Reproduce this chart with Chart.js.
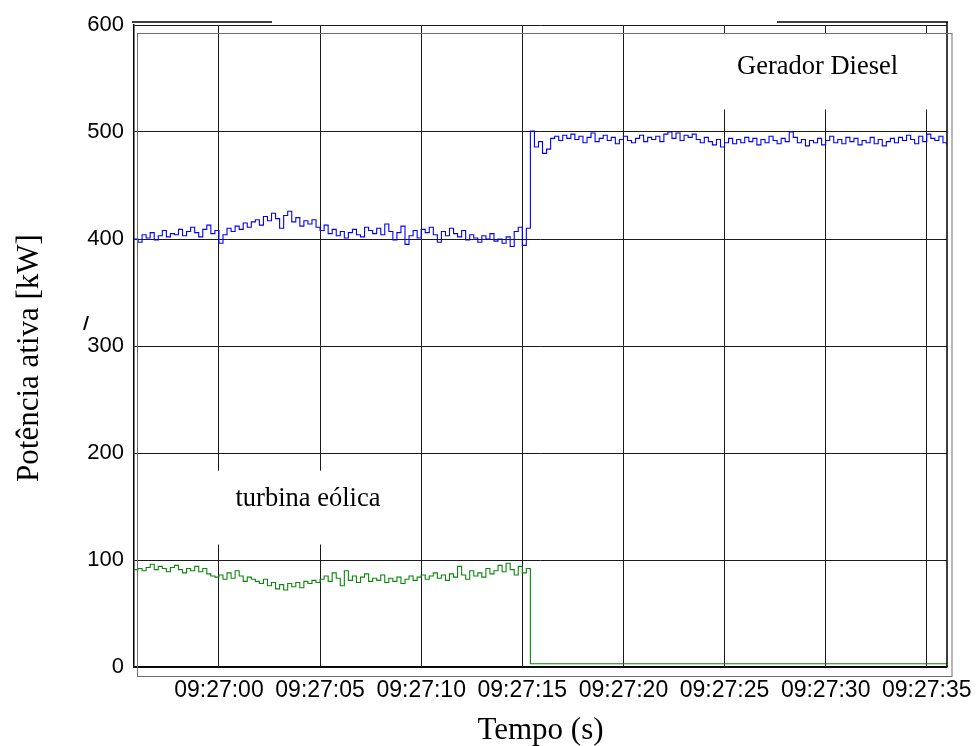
<!DOCTYPE html>
<html>
<head>
<meta charset="utf-8">
<script src="https://cdn.jsdelivr.net/npm/chart.js@4.4.1/dist/chart.umd.min.js"></script>
<style>
  html, body { margin: 0; padding: 0; background: #ffffff; }
  #wrap { width: 978px; height: 746px; }
</style>
</head>
<body>
<div id="wrap"><canvas id="c" width="978" height="746"></canvas></div>
<script>
// ---------------- DATA ----------------
// time in seconds relative to 09:27:00, sampled every 0.2 s starting at -4.2 s
const sampleStart = -4.2;
const sampleStep = 0.2;
const xMin = -4.2;
const xMax = 36.0;
const xTickValues = [0, 5, 10, 15, 20, 25, 30, 35];
const xTickPrefix = "09:27:";
const yTickValues = [0, 100, 200, 300, 400, 500, 600];

// Gerador Diesel active power [kW]
const dieselValues = [
  400, 397, 404, 401, 406, 399, 403, 408, 402, 405,
  404, 409, 403, 407, 411, 406, 402, 409, 413, 405,
  408, 396, 404, 410, 407, 412, 409, 415, 411, 416,
  418, 413, 421, 417, 424, 419, 410, 422, 426, 416,
  420, 412, 417, 414, 418, 411, 408, 413, 405, 409,
  403, 407, 401, 406, 409, 404, 402, 411, 408, 405,
  410, 404, 414, 407, 399, 406, 412, 395, 403, 408,
  401, 409, 406, 411, 404, 397, 407, 403, 410, 405,
  402, 408, 399, 404, 401, 397, 403, 400, 405, 398,
  400, 396, 402, 393, 407, 411, 394, 410,
  501, 486, 491, 480, 484, 494, 496, 492, 497, 494,
  498, 493, 496, 490, 495, 499, 491, 494, 497, 492,
  495, 489, 493, 496, 492, 490, 494, 497, 491, 495,
  493, 496, 491, 498, 500, 494, 499, 492, 497, 495,
  498, 493, 490, 495, 491, 488, 493, 486, 490, 494,
  489, 493, 490, 495, 491, 494, 488, 493, 490, 496,
  492, 489, 494, 491, 500, 495, 490, 493, 487, 492,
  490, 494, 488, 492, 496, 490, 493, 489, 495, 491,
  494, 488, 492, 490, 495, 489, 493, 487, 491, 494,
  490, 495, 492, 497, 493, 489, 496, 491, 498, 494,
  492, 496, 490, 488
];

// Turbina eólica active power [kW] before the trip (same sampling)
const windValuesBeforeTrip = [
  91, 92, 90, 93, 96, 91, 94, 92, 89, 93,
  95, 91, 88, 92, 90, 94, 89, 92, 87, 85,
  84, 86, 82, 88, 83, 90, 85, 80, 84, 82,
  80, 78, 82, 76, 79, 73, 77, 72, 78, 75,
  79, 74, 80, 78, 81, 79, 82, 85, 80, 88,
  83, 76, 90, 81, 85, 79, 84, 87, 80, 83,
  81, 86, 79, 83, 80, 84, 78, 82, 85, 81,
  84, 86, 82, 85, 88, 83, 86, 81, 87, 84,
  94, 86, 82, 90, 85, 88, 84, 92, 87, 90,
  95, 89, 97, 91, 86, 94, 88, 92
];
const windTripTime = 15.4;
const windValueAfterTrip = 3;

const labelDiesel = "Gerador Diesel";
const labelWind = "turbina eólica";
const xTitle = "Tempo (s)";
const yTitle = "Potência ativa [kW]";

// ---------------- BUILD ----------------
const dieselData = dieselValues.map((v, i) => ({ x: +(sampleStart + i * sampleStep).toFixed(2), y: v }));
const windData = windValuesBeforeTrip.map((v, i) => ({ x: +(sampleStart + i * sampleStep).toFixed(2), y: v }));
windData.push({ x: windTripTime, y: windValueAfterTrip });
windData.push({ x: xMax, y: windValueAfterTrip });

const pad2 = n => String(Math.round(n)).padStart(2, "0");

const annotations = {
  id: "annotations",
  beforeDatasetsDraw(chart) {
    const { ctx, scales: { x, y } } = chart;
    ctx.save();
    // white label boxes (hide the grid behind the labels)
    ctx.fillStyle = "#ffffff";
    const b1 = [x.getPixelForValue(20.8), y.getPixelForValue(591.5), x.getPixelForValue(35.7), y.getPixelForValue(521)];
    ctx.fillRect(b1[0], b1[1], b1[2] - b1[0], b1[3] - b1[1]);
    const b2 = [x.getPixelForValue(-3.4), y.getPixelForValue(183.5), x.getPixelForValue(9.45), y.getPixelForValue(114.5)];
    ctx.fillRect(b2[0], b2[1], b2[2] - b2[0], b2[3] - b2[1]);
    ctx.fillStyle = "#000000";
    ctx.font = "26.5px 'Liberation Serif', 'Times New Roman', serif";
    ctx.textAlign = "center";
    ctx.textBaseline = "middle";
    ctx.fillText(labelDiesel, x.getPixelForValue(29.6), y.getPixelForValue(561));
    ctx.fillText(labelWind, x.getPixelForValue(4.4), y.getPixelForValue(156.5));
    ctx.restore();
  },
  afterDraw(chart) {
    const { ctx, chartArea: a } = chart;
    ctx.save();
    // y axis title
    ctx.fillStyle = "#000000";
    ctx.font = "31px 'Liberation Serif', 'Times New Roman', serif";
    ctx.textAlign = "center";
    ctx.textBaseline = "middle";
    ctx.translate(30, (a.top + a.bottom) / 2 + 12);
    ctx.rotate(-Math.PI / 2);
    ctx.fillText(yTitle, 0, 0);
    ctx.restore();

    ctx.save();
    ctx.strokeStyle = "#000000";
    ctx.lineWidth = 1.5;
    ctx.beginPath();
    // short lines above the frame
    ctx.moveTo(a.left - 2, a.top - 3); ctx.lineTo(272, a.top - 3);
    ctx.moveTo(777, a.top - 3); ctx.lineTo(a.right + 1, a.top - 3);
    // right frame
    ctx.moveTo(a.right, a.top - 3); ctx.lineTo(a.right, a.bottom);
    ctx.stroke();
    // inner grey frame
    ctx.strokeStyle = "#6e6e6e";
    ctx.lineWidth = 1;
    ctx.strokeRect(a.left + 3.5, a.top + 8.5, a.right - a.left + 1.5, a.bottom - a.top + 1);
    // stray stroke next to the y axis
    ctx.strokeStyle = "#000000";
    ctx.lineWidth = 2;
    ctx.beginPath();
    ctx.moveTo(84, 330); ctx.lineTo(88, 316);
    ctx.stroke();
    ctx.restore();
  }
};

new Chart(document.getElementById("c"), {
  type: "line",
  data: {
    datasets: [
      { label: labelDiesel, data: dieselData, borderColor: "#0000ff", borderWidth: 1.1, pointRadius: 0, stepped: true, fill: false },
      { label: labelWind, data: windData, borderColor: "#0b860b", borderWidth: 1.1, pointRadius: 0, stepped: true, fill: false }
    ]
  },
  plugins: [annotations],
  options: {
    responsive: false,
    animation: false,
    events: [],
    layout: { padding: { top: 25, right: 31, left: 0, bottom: 0 } },
    plugins: { legend: { display: false }, tooltip: { enabled: false }, title: { display: false } },
    scales: {
      x: {
        type: "linear",
        min: xMin,
        max: xMax,
        afterFit(s) { s.height = 79; s.paddingLeft = 0; s.paddingRight = 0; },
        afterBuildTicks(s) { s.ticks = xTickValues.map(v => ({ value: v })); },
        grid: { color: "#1a1a1a", lineWidth: 1, drawTicks: false },
        border: { display: true, color: "#000000", width: 1.5 },
        ticks: {
          autoSkip: false, maxRotation: 0, minRotation: 0, padding: 10, color: "#000000",
          font: { family: "'Liberation Sans', Arial, sans-serif", size: 23 },
          callback: v => xTickPrefix + pad2(v)
        },
        title: {
          display: true, text: xTitle, color: "#000000",
          font: { family: "'Liberation Serif', 'Times New Roman', serif", size: 31, lineHeight: 1.0 },
          padding: { top: 0, bottom: 0 }
        }
      },
      y: {
        type: "linear",
        min: 0,
        max: 600,
        afterFit(s) { s.width = 134; s.paddingTop = 0; s.paddingBottom = 0; },
        afterBuildTicks(s) { s.ticks = yTickValues.map(v => ({ value: v })); },
        grid: { color: "#1a1a1a", lineWidth: 1, drawTicks: false },
        border: { display: true, color: "#000000", width: 1.5 },
        ticks: {
          padding: 10, color: "#000000",
          font: { family: "'Liberation Sans', Arial, sans-serif", size: 22 }
        },
        title: { display: false }
      }
    }
  }
});
</script>
</body>
</html>
